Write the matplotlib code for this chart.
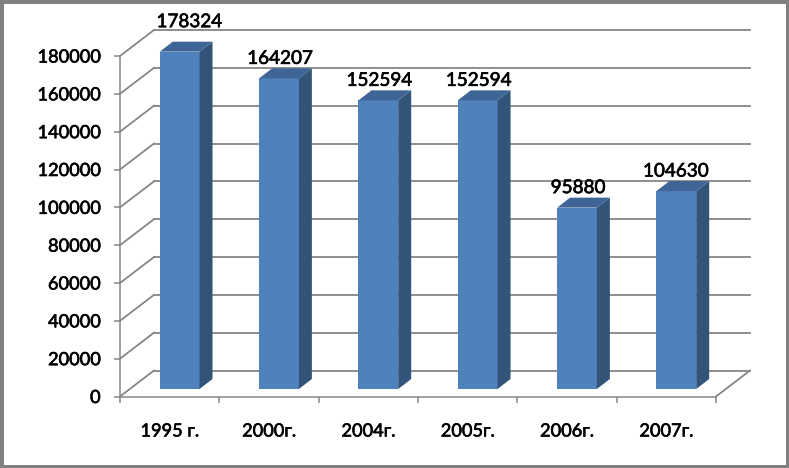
import matplotlib
matplotlib.use('Agg')
import matplotlib.pyplot as plt
import matplotlib.patheffects as pe
from matplotlib.patches import Polygon, Rectangle
from matplotlib.transforms import Affine2D

categories = ['1995 г.', '2000г.', '2004г.', '2005г.', '2006г.', '2007г.']
values = [178324, 164207, 152594, 152594, 95880, 104630]
y_ticks = [0, 20000, 40000, 60000, 80000, 100000, 120000, 140000, 160000, 180000]

W, H = 789, 468
plt.rcParams['font.family'] = ['Lato', 'DejaVu Sans']
FS = 13.1
FS_VAL = 13.6
# утолщение текста, как в исходной картинке
HEAVY = [pe.withStroke(linewidth=0.45, foreground='black')]

fig = plt.figure(figsize=(W / 100, H / 100), dpi=100, facecolor='white')
# рамка картинки
fig.add_artist(Rectangle((0, 0), 1, 1, transform=fig.transFigure, fill=False,
                         edgecolor='#7f7f7f', linewidth=5))

# передняя плоскость: x 120..716, y 396.5..56 (пиксели)
ax = fig.add_axes([120 / W, 1 - 396.5 / H, 596 / W, 340.5 / H])
ax.set_xlim(0, len(categories))
ax.set_ylim(0, 180000)
ax.patch.set_alpha(0)
for s in ax.spines.values():
    s.set_visible(False)
ax.spines['left'].set_visible(True)
ax.spines['bottom'].set_visible(True)
ax.spines['left'].set_color('#868686')
ax.spines['bottom'].set_color('#868686')
ax.spines['left'].set_linewidth(1.1)
ax.spines['bottom'].set_linewidth(1.1)

ax.set_yticks(y_ticks)
ax.set_xticks(range(len(categories) + 1))
ax.set_xticklabels([])
ax.tick_params(axis='both', color='#868686', width=1.1, length=4)
ax.tick_params(axis='y', labelsize=FS, pad=10, labelcolor='black')
for t in ax.get_yticklabels():
    t.set_path_effects(HEAVY)


def shift(dx, dy):
    return ax.transData + Affine2D().translate(dx, dy)


GRID = '#868686'
DEPTH_X, DEPTH_Y = 34, 26
back = shift(DEPTH_X, DEPTH_Y)

# сетка: задняя стенка и скосы слева
for v in y_ticks:
    ax.plot([0, len(categories)], [v, v], color=GRID, lw=1.3, transform=back,
            clip_on=False, zorder=1)
    x0, y0 = ax.transData.transform((0, v))
    ax.plot([x0, x0 + DEPTH_X], [y0, y0 + DEPTH_Y], color=GRID, lw=1.3,
            transform=None, clip_on=False, zorder=1)
# скос пола справа
x1, y1 = ax.transData.transform((len(categories), 0))
ax.plot([x1, x1 + DEPTH_X], [y1, y1 + DEPTH_Y], color=GRID, lw=1.3,
        transform=None, clip_on=False, zorder=1)

# сдвиг подписей значений в пикселях
label_dx = [19.5, 11, 11, 11, 11, 9.5]
label_dy = [29, 19, 19, 19, 19, 19]

# столбцы
BAR_W = 0.4
front = shift(10, 7.5)
for i, v in enumerate(values):
    left, right = i + 0.5 - BAR_W / 2, i + 0.5 + BAR_W / 2
    ax.bar(i + 0.5, v, width=BAR_W, color='#4f81bd', transform=front,
           clip_on=False, zorder=3)
    (xl, yb), (xr, yt) = ax.transData.transform([(left, 0), (right, v)])
    xl, xr, yb, yt = xl + 10, xr + 10, yb + 7.5, yt + 7.5
    ax.add_patch(Polygon([(xr, yb), (xr + 13, yb + 10), (xr + 13, yt + 10), (xr, yt)],
                         closed=True, facecolor='#325479', edgecolor='none',
                         transform=None, clip_on=False, zorder=3))
    ax.add_patch(Polygon([(xl, yt), (xl + 13, yt + 10), (xr + 13, yt + 10), (xr, yt)],
                         closed=True, facecolor='#3e6595', edgecolor='none',
                         transform=None, clip_on=False, zorder=3))
    ax.text(i + 0.5, v, str(v), transform=shift(label_dx[i], label_dy[i]),
            ha='center', va='bottom', fontsize=FS_VAL, color='black', clip_on=False,
            zorder=4, path_effects=HEAVY)

for i, c in enumerate(categories):
    ax.text(i + 0.5, 0, c, transform=shift(0, -40), ha='center', va='baseline',
            fontsize=FS, color='black', path_effects=HEAVY)

plt.savefig('out.png', dpi=100, facecolor='white')
